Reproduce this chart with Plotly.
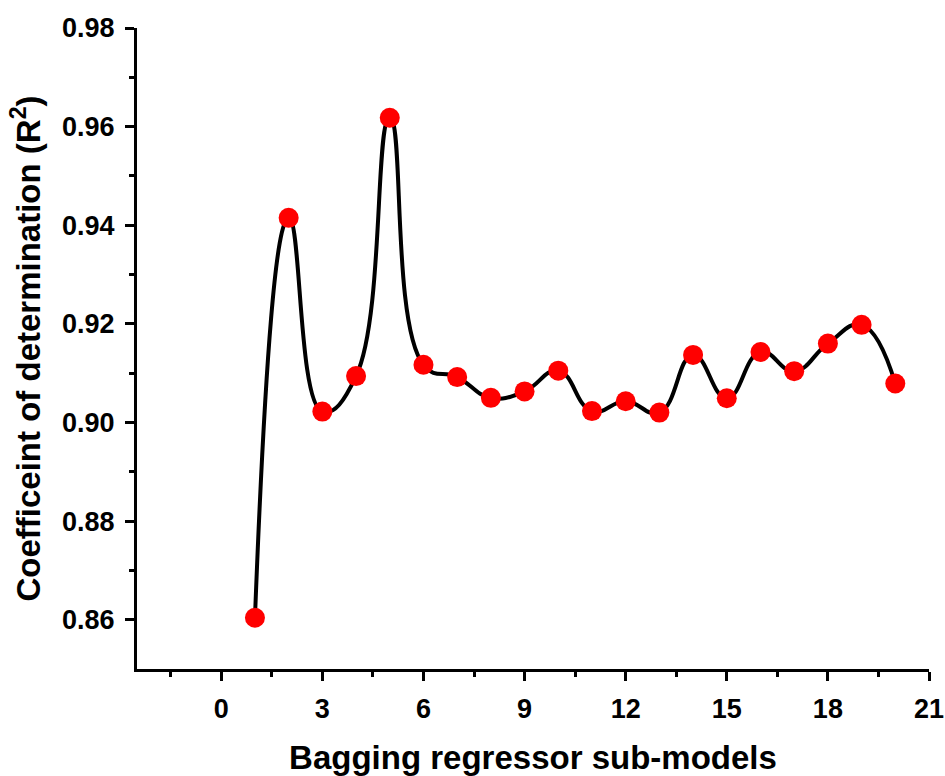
import plotly.graph_objects as go

# Number of sub-models in the bagging regressor and the resulting R² score
sub_models = list(range(1, 21))
r2_scores = [0.8604, 0.9415, 0.9022, 0.9094, 0.9618, 0.9117, 0.9092, 0.9050, 0.9063, 0.9105,
             0.9023, 0.9043, 0.9020, 0.9137, 0.9049, 0.9143, 0.9104, 0.9160, 0.9198, 0.9079]

x_ticks = [0, 3, 6, 9, 12, 15, 18, 21]
x_minor = [-1.5, 1.5, 4.5, 7.5, 10.5, 13.5, 16.5, 19.5]
y_ticks = [0.86, 0.88, 0.90, 0.92, 0.94, 0.96, 0.98]
y_minor = [0.87, 0.89, 0.91, 0.93, 0.95, 0.97]

FONT = "Liberation Sans, Arial, sans-serif"

fig = go.Figure()
fig.add_trace(go.Scatter(
    x=sub_models, y=r2_scores, mode="lines",
    line=dict(color="black", width=4, shape="spline", smoothing=1.3),
    hoverinfo="skip", showlegend=False,
))
fig.add_trace(go.Scatter(
    x=sub_models, y=r2_scores, mode="markers",
    marker=dict(color="#ff0000", size=20, line=dict(width=0)),
    showlegend=False,
))

axis_common = dict(
    showline=True, linecolor="black", linewidth=3,
    ticks="outside", tickwidth=3, ticklen=9, tickcolor="black",
    showgrid=False, zeroline=False,
    tickfont=dict(family=FONT, size=27, color="black", weight="bold"),
    ticklabelstandoff=5,
    automargin=False,
    mirror=False,
)

fig.update_layout(
    width=945, height=776,
    margin=dict(l=137, r=16, t=28, b=107),
    plot_bgcolor="white", paper_bgcolor="white",
    xaxis=dict(
        range=[-2.5, 21], tickvals=x_ticks,
        minor=dict(tickvals=x_minor, ticks="outside", ticklen=5, tickwidth=3, tickcolor="black"),
        title=dict(text="<b>Bagging regressor sub-models</b>",
                   font=dict(family=FONT, size=33, color="black"), standoff=26),
        **axis_common,
    ),
    yaxis=dict(
        range=[0.85, 0.98], tickvals=y_ticks, tickformat=".2f",
        minor=dict(tickvals=y_minor, ticks="outside", ticklen=5, tickwidth=3, tickcolor="black"),
        title=dict(text="<b>Coefficeint of determination (R<sup>2</sup>)</b>",
                   font=dict(family=FONT, size=33, color="black"), standoff=12),
        **axis_common,
    ),
)

fig.write_html("out.html")
